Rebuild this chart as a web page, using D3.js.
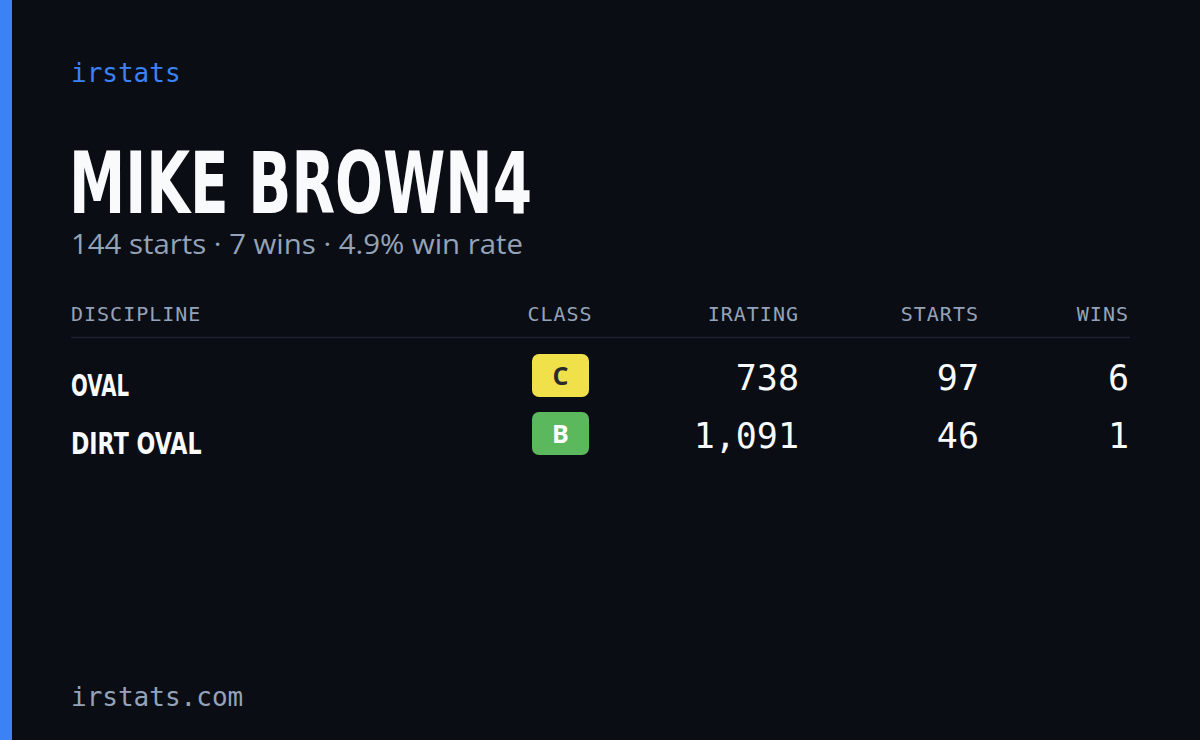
<!DOCTYPE html>
<html><head><meta charset="utf-8">
<script src="https://cdn.jsdelivr.net/npm/d3@7"></script>
<style>body{margin:0;background:#0a0d14}</style></head>
<body><svg id="c" width="1200" height="740"></svg>
<script>
const brand = "irstats";
const driver = "MIKE BROWN4";
const summary = "144 starts · 7 wins · 4.9% win rate";
const columns = ["DISCIPLINE","CLASS","IRATING","STARTS","WINS"];
const disciplines = ["OVAL","DIRT OVAL"];
const classes = ["C","B"];
const iratings = [738,1091];
const starts = [97,46];
const wins = [6,1];
const footer = "irstats.com";

const svg = d3.select("#c");
const mono = "'DejaVu Sans Mono', monospace";
const cond = "'DejaVu Sans', sans-serif";
svg.append("rect").attr("width",1200).attr("height",740).attr("fill","#0a0d14");
svg.append("rect").attr("width",12).attr("height",740).attr("fill","#3b82f6");
svg.append("text").attr("x",71).attr("y",82).text(brand).attr("fill","#3b82f6")
  .attr("font-family",mono).attr("font-size",26);
svg.append("text").attr("x",69).attr("y",213).text(driver).attr("fill","#f8fafc")
  .attr("font-family",cond).attr("font-weight","bold").attr("font-size",86)
  .attr("textLength",463).attr("lengthAdjust","spacingAndGlyphs");
svg.append("text").attr("x",71).attr("y",254).text(summary).attr("fill","#94a3b8")
  .attr("font-family","'Open Sans', sans-serif").attr("font-size",27)
  .attr("textLength",452).attr("lengthAdjust","spacingAndGlyphs");

const colX = [71,560,799,979,1129];
const anchors = ["start","middle","end","end","end"];
svg.selectAll("text.h").data(columns).join("text").attr("class","h")
  .attr("x",(d,i)=>colX[i]).attr("y",321).attr("text-anchor",(d,i)=>anchors[i])
  .text(d=>d).attr("fill","#94a3b8").attr("font-family",mono).attr("font-size",20)
  .attr("letter-spacing",1);
svg.append("line").attr("x1",71).attr("x2",1130).attr("y1",337.5).attr("y2",337.5)
  .attr("stroke","#1c2230").attr("stroke-width",1.5);

const y = d3.scalePoint().domain(disciplines).range([376,434]);
const classColor = {C:"#f0e14a",B:"#5cb85c"};
const classText = {C:"#2a2a2a",B:"#ffffff"};
const fmt = d3.format(",");
disciplines.forEach((d,i)=>{
  const cy = y(d);
  svg.append("text").attr("x",71).attr("y",cy+20).text(d).attr("fill","#f8fafc")
    .attr("font-family",cond).attr("font-weight","bold").attr("font-size",31)
    .attr("textLength",d.length*14.5).attr("lengthAdjust","spacingAndGlyphs");
  svg.append("rect").attr("x",532).attr("y",cy-22).attr("width",57).attr("height",43)
    .attr("rx",7).attr("fill",classColor[classes[i]]);
  svg.append("text").attr("x",560.5).attr("y",cy+9).attr("text-anchor","middle")
    .text(classes[i]).attr("fill",classText[classes[i]]).attr("font-family","'Open Sans', sans-serif")
    .attr("font-weight","bold").attr("font-size",25);
  [fmt(iratings[i]),starts[i],wins[i]].forEach((v,j)=>{
    svg.append("text").attr("x",colX[j+2]).attr("y",cy+14).attr("text-anchor","end")
      .text(v).attr("fill","#f8fafc").attr("font-family",mono).attr("font-size",35);
  });
});
svg.append("text").attr("x",71).attr("y",706).text(footer).attr("fill","#94a3b8")
  .attr("font-family",mono).attr("font-size",26);
</script></body></html>
